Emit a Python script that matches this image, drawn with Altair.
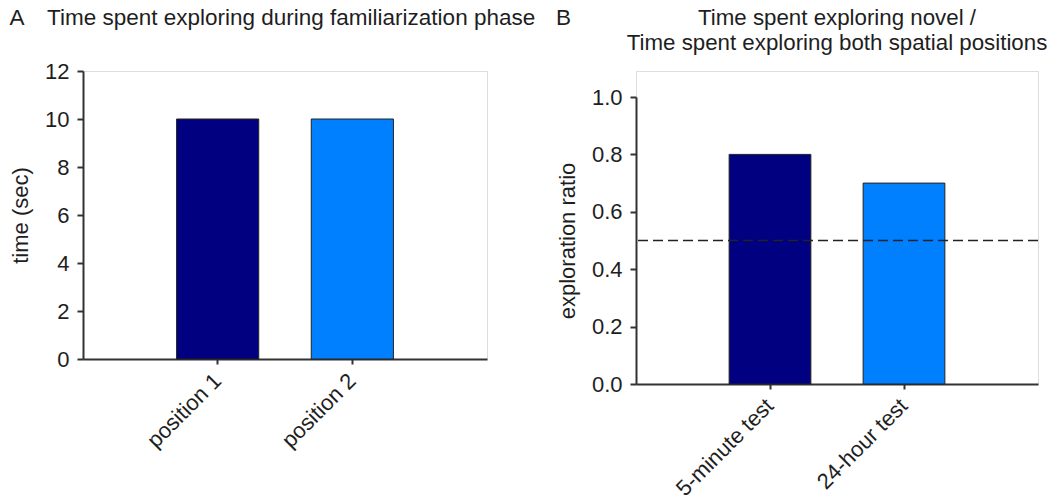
import altair as alt
import pandas as pd

# ---- data ----
cats_a = ["position 1", "position 2"]
vals_a = [10, 10]
cats_b = ["5-minute test", "24-hour test"]
vals_b = [0.8, 0.7]
bar_colors = ["#000080", "#0080ff"]
chance_level = [0.5]
ticks_a = [0, 2, 4, 6, 8, 10, 12]
ticks_b = [0.0, 0.2, 0.4, 0.6, 0.8, 1.0]
title_a = "A\u2003Time spent exploring during familiarization phase"
letter_b = ["B"]
title_b = ["Time spent exploring novel /\nTime spent exploring both spatial positions"]

FONT = "Liberation Sans"
INK = "#1e1e1e"

df_a = pd.DataFrame({"cat": cats_a, "val": vals_a, "color": bar_colors})
df_b = pd.DataFrame({"cat": cats_b, "val": vals_b, "color": bar_colors})
df_rule = pd.DataFrame({"y": chance_level})
df_letter = pd.DataFrame({"t": letter_b})
df_title_b = pd.DataFrame({"t": title_b})

axis_common = dict(
    domainColor="#333333", domainWidth=2, tickColor="#333333", tickWidth=2,
    labelFont=FONT, labelFontSize=22, labelColor=INK,
    titleFont=FONT, titleFontSize=22, titleFontWeight="normal", titleColor=INK,
    grid=False,
)
x_axis = dict(axis_common, tickSize=5, labelPadding=13, labelAngle=-45,
              labelAlign="right", labelBaseline="middle", title=None)
y_axis = dict(axis_common, tickSize=6, labelPadding=8, titlePadding=12)

xscale_a = alt.Scale(paddingInner=0.39, paddingOuter=0.695)
xscale_b = alt.Scale(paddingInner=0.39, paddingOuter=0.695)

W_A, H_A = 404, 288
W_B, H_B = 402, 313    # panel B plot area; its y range starts 26 px lower

bars_a = alt.Chart(df_a).mark_bar(stroke="#222222", strokeWidth=1).encode(
    x=alt.X("cat:N", sort=cats_a, scale=xscale_a, axis=alt.Axis(**x_axis)),
    y=alt.Y("val:Q", scale=alt.Scale(domain=[0, 12], nice=False),
            axis=alt.Axis(title="time (sec)", values=ticks_a, **y_axis)),
    color=alt.Color("color:N", scale=None),
).properties(
    width=W_A, height=H_A,
    title=alt.TitleParams(
        title_a, anchor="start", frame="bounds", font=FONT, fontSize=22.5,
        fontWeight="normal", color=INK, offset=31,
    ),
)

yscale_b = alt.Scale(domain=[0, 1], nice=False, range=[H_B, 26])

bars_b = alt.Chart(df_b).mark_bar(stroke="#222222", strokeWidth=1).encode(
    x=alt.X("cat:N", sort=cats_b, scale=xscale_b, axis=alt.Axis(**x_axis)),
    y=alt.Y("val:Q", scale=yscale_b,
            axis=alt.Axis(title="exploration ratio", values=ticks_b,
                          format=".1f", **y_axis)),
    color=alt.Color("color:N", scale=None),
)

rule_b = alt.Chart(df_rule).mark_rule(
    strokeDash=[10, 5], color="#222222", strokeWidth=1.5
).encode(y=alt.Y("y:Q", scale=yscale_b))

letter_mark = alt.Chart(df_letter).mark_text(
    align="left", baseline="middle", font=FONT, fontSize=22.5, color=INK
).encode(x=alt.value(-80), y=alt.value(-53), text="t:N")

title_b_mark = alt.Chart(df_title_b).mark_text(
    align="center", baseline="middle", font=FONT, fontSize=22.3, color=INK,
    lineBreak="\n", lineHeight=25,
).encode(x=alt.value(W_B / 2), y=alt.value(-53), text="t:N")

panel_b = alt.layer(bars_b, rule_b, letter_mark, title_b_mark).properties(
    width=W_B, height=H_B,
)

chart = alt.hconcat(bars_a, panel_b, spacing=19).properties(
    padding={"left": 9, "top": 6, "right": 5, "bottom": 5},
).configure_view(stroke=None).configure(background="white")

chart.save("out.html", embed_options={"renderer": "svg", "actions": False})
